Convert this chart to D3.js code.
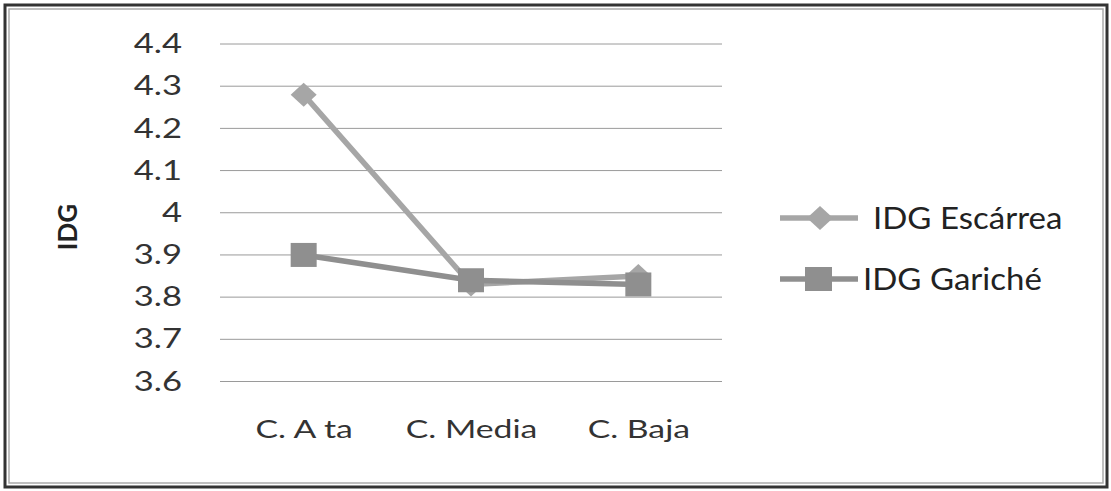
<!DOCTYPE html>
<html><head><meta charset="utf-8">
<script src="https://cdn.jsdelivr.net/npm/d3@7"></script>
<style>html,body{margin:0;padding:0;background:#fff}svg{display:block}</style>
</head><body>
<svg id="c" width="1111" height="491"></svg>
<script>
const categories = ["C. A ta", "C. Media", "C. Baja"];
const escarrea = [4.28, 3.83, 3.85];
const gariche = [3.90, 3.84, 3.83];
const yTicks = [3.6, 3.7, 3.8, 3.9, 4, 4.1, 4.2, 4.3, 4.4];
const seriesNames = ["IDG Escárrea", "IDG Gariché"];
const axisTitle = "IDG";

const svg = d3.select("#c");
const font = "Lato, 'Open Sans', sans-serif";

// horizontally stretch text to mimic the reference's wide rendering
function stretch(sel, k) {
  sel.each(function () {
    const w = this.getComputedTextLength();
    d3.select(this).attr("textLength", w * k).attr("lengthAdjust", "spacingAndGlyphs");
  });
}

// frame
svg.append("rect").attr("x", 5).attr("y", 5).attr("width", 1102).attr("height", 482)
  .attr("fill", "#fff").attr("stroke", "#333").attr("stroke-width", 3);
svg.append("rect").attr("x", 9).attr("y", 9).attr("width", 1094).attr("height", 474)
  .attr("fill", "none").attr("stroke", "#aaa").attr("stroke-width", 1.5);

const x = d3.scalePoint().domain(categories).range([220, 722]).padding(0.5);
const y = d3.scaleLinear().domain([3.6, 4.4]).range([381.5, 44]);

// gridlines
svg.append("g").selectAll("line").data(yTicks).join("line")
  .attr("x1", 220).attr("x2", 722)
  .attr("y1", d => y(d)).attr("y2", d => y(d))
  .attr("stroke", "#9a9a9a").attr("stroke-width", 1);

// y axis labels
const yAxis = d3.axisLeft(y).tickValues(yTicks).tickSize(0).tickPadding(0)
  .tickFormat(d => String(d));
const ya = svg.append("g").attr("transform", "translate(182,0)").call(yAxis);
ya.select(".domain").remove();
ya.selectAll("text").attr("font-family", font).attr("font-size", 27).attr("fill", "#333")
  .call(stretch, 1.28);

// x axis labels
const xAxis = d3.axisBottom(x).tickSize(0).tickPadding(0);
const xa = svg.append("g").attr("transform", "translate(0,420)").call(xAxis);
xa.select(".domain").remove();
xa.selectAll("text").attr("font-family", font).attr("font-size", 25).attr("fill", "#333")
  .call(stretch, 1.35);

// axis title
svg.append("text").attr("transform", "translate(77,227) rotate(-90)")
  .attr("text-anchor", "middle").attr("font-family", font).attr("font-size", 26)
  .attr("font-weight", "bold").attr("fill", "#222").text(axisTitle);

const line = d3.line().x((d, i) => x(categories[i])).y(d => y(d));
const colE = "#a6a6a6", colG = "#8f8f8f";
const diamond = "M0,-12L13,0L0,12L-13,0Z";

// Escárrea
svg.append("path").datum(escarrea).attr("d", line).attr("fill", "none")
  .attr("stroke", colE).attr("stroke-width", 5.5);
svg.append("g").selectAll("path").data(escarrea).join("path")
  .attr("d", diamond)
  .attr("transform", (d, i) => `translate(${x(categories[i])},${y(d)})`)
  .attr("fill", colE);

// Gariché
svg.append("path").datum(gariche).attr("d", line).attr("fill", "none")
  .attr("stroke", colG).attr("stroke-width", 5.5);
svg.append("g").selectAll("rect").data(gariche).join("rect")
  .attr("x", (d, i) => x(categories[i]) - 13).attr("y", d => y(d) - 12)
  .attr("width", 26).attr("height", 24).attr("fill", colG);

// legend
const lg = svg.append("g");
const ly = [218, 279];
[colE, colG].forEach((c, i) => {
  lg.append("line").attr("x1", 780).attr("x2", 858).attr("y1", ly[i]).attr("y2", ly[i])
    .attr("stroke", c).attr("stroke-width", 5.5);
  if (i === 0) {
    lg.append("path").attr("d", diamond)
      .attr("transform", `translate(820,${ly[i]})`).attr("fill", c);
  } else {
    lg.append("rect").attr("x", 805).attr("y", ly[i] - 12).attr("width", 27).attr("height", 24).attr("fill", c);
  }
  lg.append("text").attr("x", i === 0 ? 873 : 863).attr("y", ly[i]).attr("dy", "0.36em")
    .attr("font-family", font).attr("font-size", 30).attr("fill", "#222").text(seriesNames[i])
    .call(stretch, 1.1);
});
</script>
</body></html>
